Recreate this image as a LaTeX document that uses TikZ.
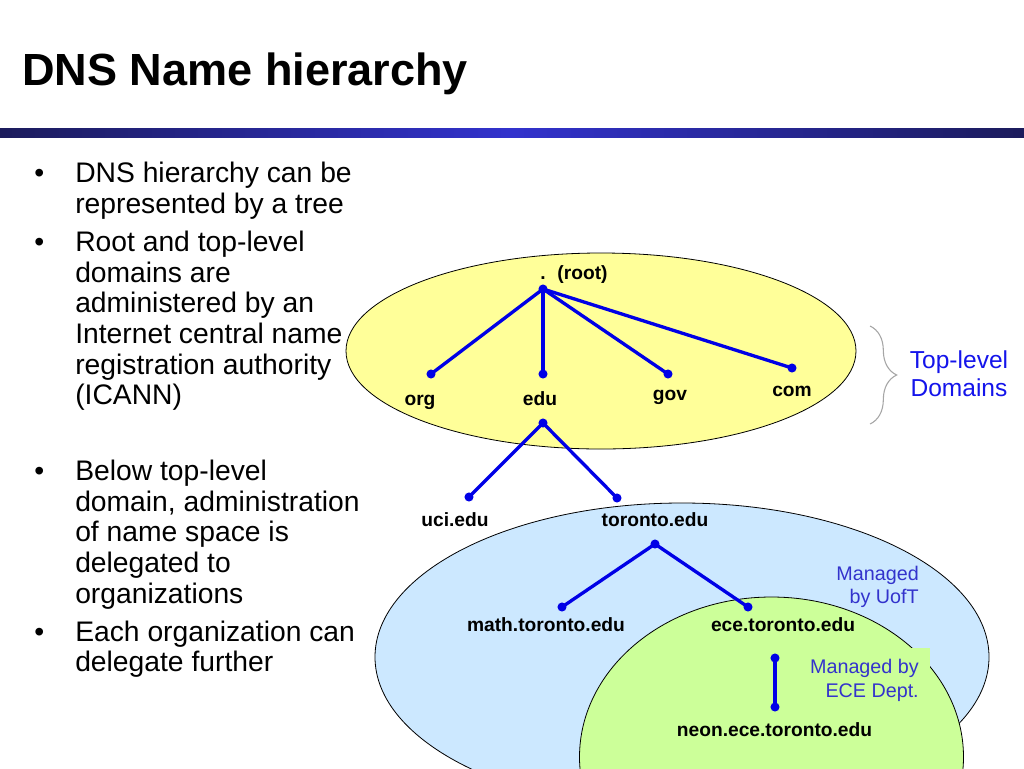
\documentclass[tikz,border=0pt]{standalone}
\usepackage{fontspec}
\setmainfont{Liberation Sans}
\usetikzlibrary{decorations.pathreplacing}
\definecolor{edgeblue}{RGB}{0,0,230}
\definecolor{ylw}{RGB}{255,255,153}
\definecolor{lblue}{RGB}{204,232,255}
\definecolor{lgreen}{RGB}{204,255,153}
\definecolor{navybar}{RGB}{28,28,92}
\definecolor{barmid}{RGB}{50,50,205}
\definecolor{mgblue}{RGB}{51,51,204}
\definecolor{tlblue}{RGB}{20,20,235}
\begin{document}
\begin{tikzpicture}[x=0.75pt,y=-0.75pt,
  dot/.style={circle,fill=edgeblue,inner sep=0pt,minimum size=6.8pt},
  edge/.style={draw=edgeblue,line width=2.5pt},
  lbl/.style={font=\fontsize{14.4pt}{17pt}\selectfont\bfseries,inner sep=0pt,anchor=base},
  btxt/.style={font=\fontsize{21.2pt}{23pt}\selectfont,inner sep=0pt,anchor=base west},
  mg/.style={font=\fontsize{14.8pt}{17.2pt}\selectfont,text=mgblue,inner sep=0pt,anchor=base east},
  tl/.style={font=\fontsize{18.4pt}{21pt}\selectfont,text=tlblue,inner sep=0pt,anchor=base},
  zone/.style={draw=black,line width=0.6pt}]
\useasboundingbox (0,0) rectangle (1024,768);
\fill[white] (0,0) rectangle (1024,768);

% title and bar
\node[anchor=base west,inner sep=0pt,font=\fontsize{33.8pt}{40pt}\selectfont\bfseries] (title) at (22,85) {DNS Name hierarchy};
\shade[left color=navybar,right color=navybar,middle color=barmid] (0,128) rectangle (1024,137);

% bullets
\node[btxt] (bu1) at (34,182.7) {•};
\node[btxt] (t1a) at (75,182.7) {DNS hierarchy can be};
\node[btxt] (t1b) at (75,213.3) {represented by a tree};
\node[btxt] (bu2) at (34,251.7) {•};
\node[btxt] (t2a) at (75,251.7) {Root and top-level};
\node[btxt] (t2b) at (75,282.3) {domains are};
\node[btxt] (t2c) at (75,312.9) {administered by an};
\node[btxt] (t2d) at (75,343.5) {Internet central name};
\node[btxt] (t2e) at (75,374.1) {registration authority};
\node[btxt] (t2f) at (75,404.7) {(ICANN)};
\node[btxt] (bu3) at (34,480.7) {•};
\node[btxt] (t3a) at (75,480.7) {Below top-level};
\node[btxt] (t3b) at (75,511.3) {domain, administration};
\node[btxt] (t3c) at (75,541.9) {of name space is};
\node[btxt] (t3d) at (75,572.5) {delegated to};
\node[btxt] (t3e) at (75,603.1) {organizations};
\node[btxt] (bu4) at (34,641) {•};
\node[btxt] (t4a) at (75,641) {Each organization can};
\node[btxt] (t4b) at (75,671.6) {delegate further};

% zones
\draw[zone,fill=ylw] (601,351) ellipse [x radius=191.25pt,y radius=73.5pt];
\draw[zone,fill=lblue] (682,657) ellipse [x radius=230.25pt,y radius=115.5pt];
\draw[zone,fill=lgreen] (771.5,757) ellipse [x radius=144pt,y radius=120pt];
\node[fill=lgreen,inner sep=0pt,minimum width=91.5pt,minimum height=42pt,anchor=north west] (ecebox) at (808,648) {};

% dots
\node[dot] (root) at (543,289) {};
\node[dot] (org) at (431,374) {};
\node[dot] (edu) at (543,374) {};
\node[dot] (gov) at (668,374) {};
\node[dot] (com) at (792,368) {};
\node[dot] (edu2) at (543,423) {};
\node[dot] (uci) at (469,497) {};
\node[dot] (tor) at (617,498) {};
\node[dot] (tor2) at (655,544) {};
\node[dot] (math) at (562,607) {};
\node[dot] (ece) at (748,607) {};
\node[dot] (ece2) at (775,658) {};
\node[dot] (neon) at (775,707) {};

% edges
\draw[edge] (root.center) -- (org.center);
\draw[edge] (root.center) -- (edu.center);
\draw[edge] (root.center) -- (gov.center);
\draw[edge] (root.center) -- (com.center);
\draw[edge] (edu2.center) -- (uci.center);
\draw[edge] (edu2.center) -- (tor.center);
\draw[edge] (tor2.center) -- (math.center);
\draw[edge] (tor2.center) -- (ece.center);
\draw[edge] (ece2.center) -- (neon.center);

% labels
\node[lbl,anchor=base west] (lroot) at (540,279) {.\hspace{0.62em}(root)};
\node[lbl] (lorg) at (420,405) {org};
\node[lbl] (ledu) at (540,405) {edu};
\node[lbl] (lgov) at (670,400) {gov};
\node[lbl] (lcom) at (792,396) {com};
\node[lbl] (luci) at (455,526.7) {uci.edu};
\node[lbl] (ltor) at (655,526.7) {toronto.edu};
\node[lbl] (lmath) at (546,631.7) {math.toronto.edu};
\node[lbl] (lece) at (783,631.7) {ece.toronto.edu};
\node[lbl] (lneon) at (774.5,736) {neon.ece.toronto.edu};

% managed-by notes
\node[mg] (mu1) at (919,580) {Managed};
\node[mg] (mu2) at (919,603) {by UofT};
\node[mg] (me1) at (919,673) {Managed by};
\node[mg] (me2) at (919,697) {ECE Dept.};

% brace and top-level label
\coordinate (brtop) at (870,326);
\coordinate (brbot) at (870,424);
\draw[black!35,line width=0.8pt,decorate,decoration={brace,amplitude=20pt}] (brtop) -- (brbot);
\node[tl] (tl1) at (959,368) {Top-level};
\node[tl] (tl2) at (959,396) {Domains};
\end{tikzpicture}
\end{document}
